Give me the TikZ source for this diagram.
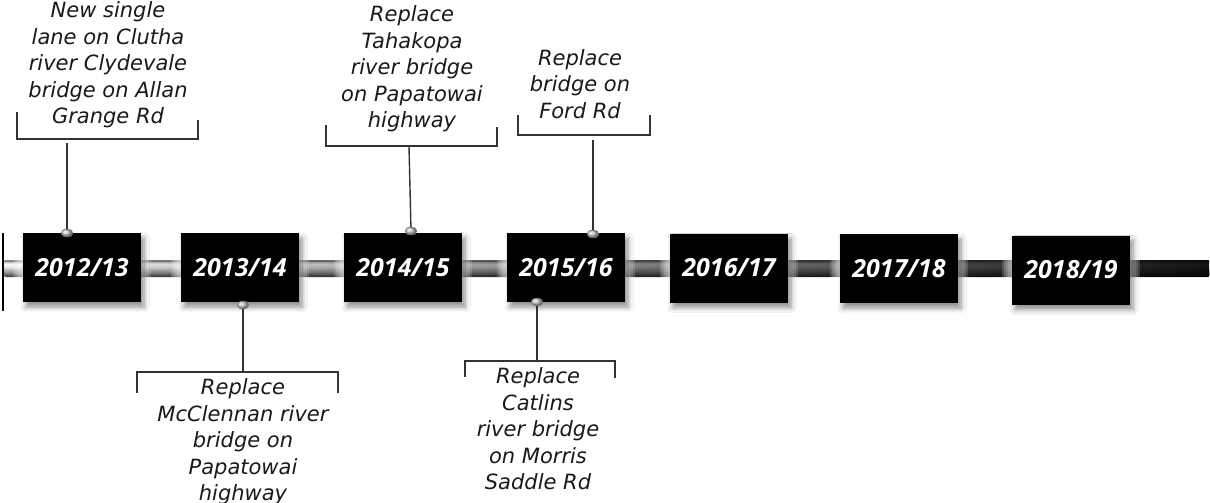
\documentclass[tikz,border=0pt]{standalone}
\usepackage{fontspec}
\setmainfont{Open Sans}
\newfontfamily\descfont{DejaVu Sans}
\usetikzlibrary{shapes.geometric,shadows.blur,fadings,backgrounds}
\tikzfading[name=barfade, left color=transparent!100, right color=transparent!8]
\pgfdeclareverticalshading{tube}{100bp}{color(0bp)=(black!85); color(25bp)=(black!85); color(27bp)=(black!75); color(40bp)=(black!40); color(55bp)=(black!8); color(63bp)=(black!2); color(69bp)=(black!20); color(71bp)=(black!50); color(75bp)=(black!45); color(100bp)=(black!45)}
\tikzset{
  yearbox/.style={fill=black, minimum width=118pt, minimum height=69pt, inner sep=0pt,
    text=white, font=\fontsize{25}{30}\selectfont\bfseries\itshape,
    blur shadow={shadow xshift=3pt, shadow yshift=-5pt, shadow blur steps=8, shadow blur radius=5pt, shadow opacity=45}},
  dotnode/.style={ellipse, minimum width=12pt, minimum height=8pt, inner sep=0pt, draw=black!50, line width=0.4pt, ball color=black!22},
  conn/.style={draw=black!80, line width=1.4pt},
  bracket/.style={draw=black!80, line width=1.4pt},
  desc/.style={align=center, inner sep=0pt, text=black!90, font=\descfont\fontsize{21}{26.5}\selectfont\itshape},
  glow/.style={fill=white, opacity=0.17}
}
\begin{document}
\begin{tikzpicture}[x=1pt,y=-1pt]
\useasboundingbox (0,0) rectangle (1210,503);
% year boxes
\node[yearbox] (b1) at (82,267.5) {2012/13};
\node[yearbox] (b2) at (240,267.5) {2013/14};
\node[yearbox] (b3) at (403,267.5) {2014/15};
\node[yearbox] (b4) at (566,267.5) {2015/16};
\node[yearbox] (b5) at (729,268) {2016/17};
\node[yearbox] (b6) at (899,268.5) {2017/18};
\node[yearbox] (b7) at (1071,270) {2018/19};
% timeline bar behind the boxes
\begin{scope}[on background layer]
\path[shading=tube, rounded corners=3pt] (3,260) -- (1210,260) -- (1210,277) -- (3,277) -- cycle;
\fill[black, path fading=barfade] (3,260) rectangle (1210,277);
\foreach \b in {b1,b2,b3,b4,b5,b6,b7}{
  \foreach \i in {2,4,6,8,10}{
    \fill[glow] ([shift={(-\i pt,-\i pt)}]\b.south west) rectangle ([shift={(\i pt,\i pt)}]\b.north east);
  }
}
\draw[black, line width=2pt] (3,233) -- (3,311);
\end{scope}
% dots
\node[dotnode] (d1) at (67,233) {};
\node[dotnode] (d2) at (243,305) {};
\node[dotnode] (d3) at (411,231) {};
\node[dotnode] (d4) at (593,234) {};
\node[dotnode] (d5) at (537,302) {};
% brackets
\draw[bracket] (17,112) -- (17,139) -- (198,139) -- (198,120);
\draw[bracket] (326,125) -- (326,146) -- (497,146) -- (497,127);
\draw[bracket] (518,115) -- (518,135) -- (650,135) -- (650,115);
\draw[bracket] (137,393) -- (137,372) -- (338,372) -- (338,393);
\draw[bracket] (465,377) -- (465,361) -- (615,361) -- (615,378);
% connector ends
\coordinate (c1) at (67,143);
\coordinate (c3) at (409,146);
\coordinate (c4) at (593,140);
\coordinate (c2) at (243,372);
\coordinate (c5) at (537,361);
\draw[conn] (c1) -- (d1);
\draw[conn] (c3) -- (d3);
\draw[conn] (c4) -- (d4);
\draw[conn] (d2) -- (c2);
\draw[conn] (d5) -- (c5);
% texts
\node[desc] (t1) at (108,65) {New single\\lane on Clutha\\river Clydevale\\bridge on Allan\\Grange Rd};
\node[desc] (t2) at (412,69) {Replace\\Tahakopa\\river bridge\\on Papatowai\\highway};
\node[desc] (t3) at (580,84) {Replace\\bridge on\\Ford Rd};
\node[desc] (t4) at (243,442) {Replace\\McClennan river\\bridge on\\Papatowai\\highway};
\node[desc] (t5) at (538,429) {Replace\\Catlins\\river bridge\\on Morris\\Saddle Rd};
\end{tikzpicture}
\end{document}
